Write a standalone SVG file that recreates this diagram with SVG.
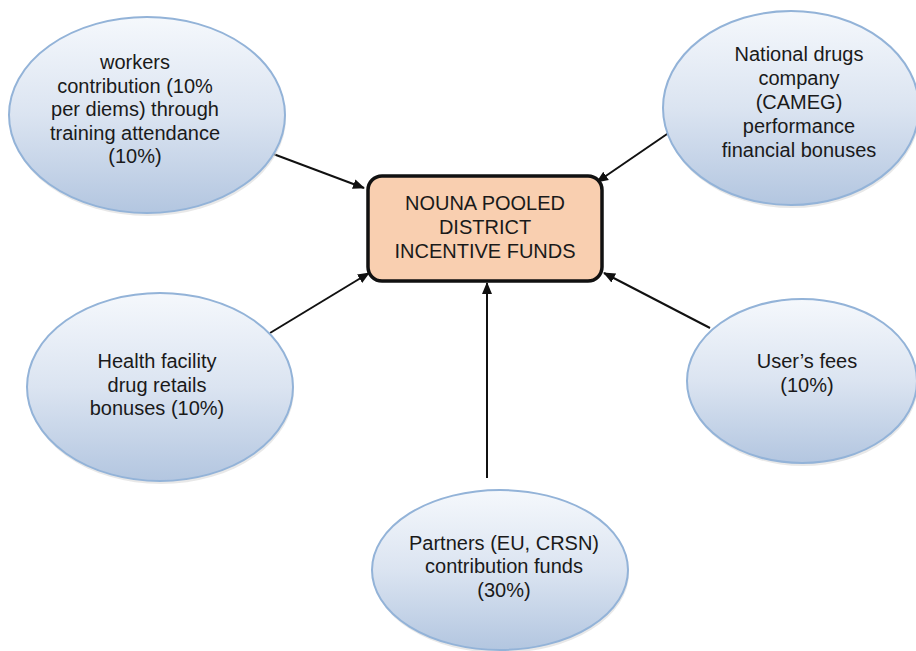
<svg xmlns="http://www.w3.org/2000/svg" width="916" height="651" viewBox="0 0 916 651">
<style>
.ell{fill:url(#g);stroke:#93b3d8;stroke-width:2}
.sh{fill:#d9d9d9;opacity:0.6}
.t{font-family:"Liberation Sans",Arial,sans-serif;font-size:20px;fill:#1a1a1a;text-anchor:middle}
.c{stroke:#111;stroke-width:2;fill:none;marker-end:url(#ah)}
</style>
<defs>
<linearGradient id="g" x1="0" y1="0" x2="0" y2="1">
<stop offset="0" stop-color="#f5f8fc"/>
<stop offset="0.5" stop-color="#dbe4f1"/>
<stop offset="1" stop-color="#b3c6e0"/>
</linearGradient>
<marker id="ah" markerWidth="12" markerHeight="12" refX="11" refY="6" orient="auto" markerUnits="userSpaceOnUse" viewBox="0 0 12 12">
<path d="M0,1 L12,6 L0,11 Z" fill="#111"/>
</marker>
</defs>
<rect width="916" height="651" fill="#fff"/>
<g id="connectors">
<line class="c" x1="268" y1="152" x2="364" y2="188"/>
<line class="c" x1="670" y1="132" x2="597" y2="182"/>
<line class="c" x1="270" y1="333" x2="369" y2="273"/>
<line class="c" x1="710" y1="328" x2="604" y2="273"/>
<line class="c" x1="487" y1="478" x2="487" y2="283"/>
</g>
<g id="workers">
<ellipse class="sh" cx="148" cy="118" rx="138" ry="98"/>
<ellipse class="ell" cx="147" cy="115" rx="138" ry="98"/>
<text class="t" x="135" y="69">workers</text>
<text class="t" x="135" y="93">contribution (10%</text>
<text class="t" x="135" y="116">per diems) through</text>
<text class="t" x="135" y="140">training attendance</text>
<text class="t" x="135" y="163">(10%)</text>
</g>
<g id="cameg">
<ellipse class="sh" cx="792" cy="111" rx="128" ry="97"/>
<ellipse class="ell" cx="791" cy="108" rx="128" ry="97"/>
<text class="t" x="799" y="61">National drugs</text>
<text class="t" x="799" y="85">company</text>
<text class="t" x="799" y="109">(CAMEG)</text>
<text class="t" x="799" y="133">performance</text>
<text class="t" x="799" y="157">financial bonuses</text>
</g>
<g id="health">
<ellipse class="sh" cx="161" cy="390" rx="133" ry="94"/>
<ellipse class="ell" cx="160" cy="387" rx="133" ry="94"/>
<text class="t" x="157" y="368">Health facility</text>
<text class="t" x="157" y="392">drug retails</text>
<text class="t" x="157" y="415">bonuses (10%)</text>
</g>
<g id="users">
<ellipse class="sh" cx="803" cy="384" rx="115" ry="82"/>
<ellipse class="ell" cx="802" cy="381" rx="115" ry="82"/>
<text class="t" x="807" y="368">User’s fees</text>
<text class="t" x="807" y="392">(10%)</text>
</g>
<g id="partners">
<ellipse class="sh" cx="501" cy="573" rx="128" ry="80"/>
<ellipse class="ell" cx="500" cy="570" rx="128" ry="80"/>
<text class="t" x="504" y="550">Partners (EU, CRSN)</text>
<text class="t" x="504" y="573">contribution funds</text>
<text class="t" x="504" y="597">(30%)</text>
</g>
<g id="pooled">
<rect x="368" y="176" width="234" height="105" rx="14" fill="#f9cfb0" stroke="#111" stroke-width="3.5"/>
<text class="t" x="485" y="210">NOUNA POOLED</text>
<text class="t" x="485" y="234">DISTRICT</text>
<text class="t" x="485" y="258">INCENTIVE FUNDS</text>
</g>
</svg>
